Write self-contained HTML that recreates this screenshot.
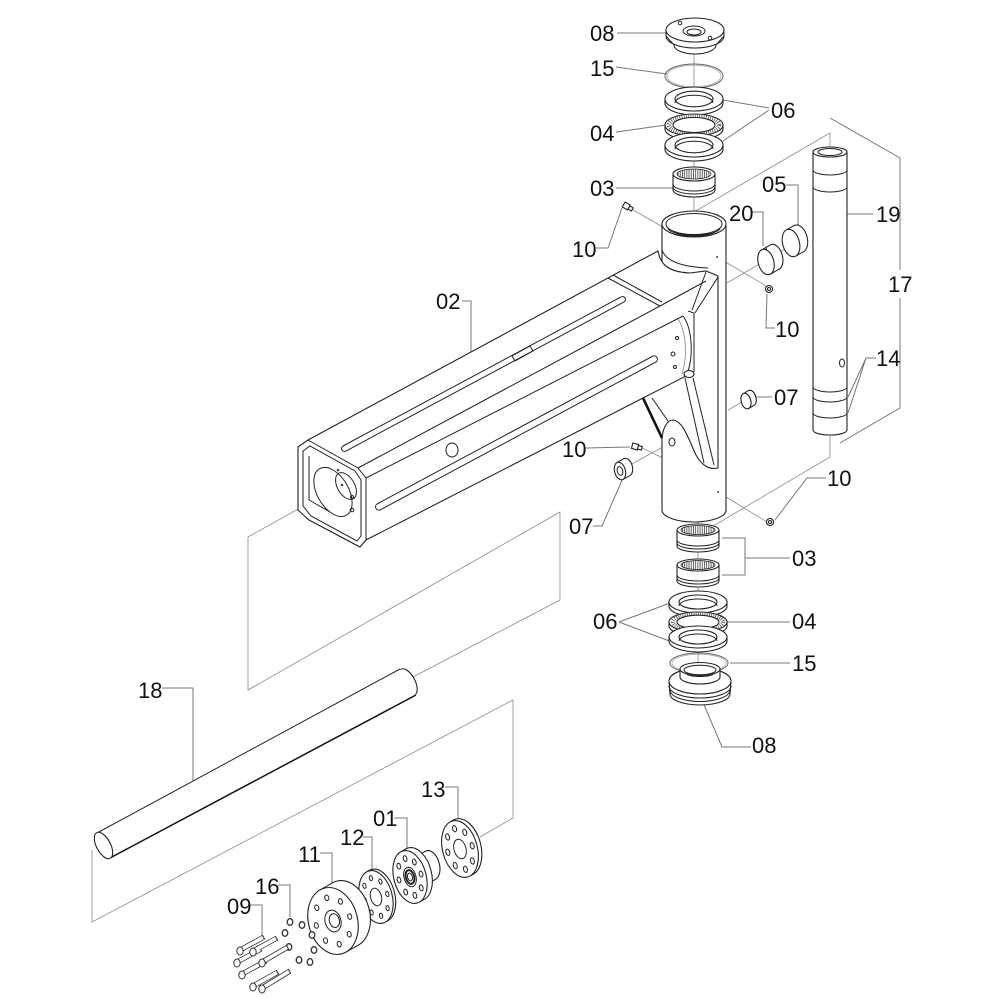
<!DOCTYPE html>
<html><head><meta charset="utf-8"><style>
html,body{margin:0;padding:0;background:#fff;}
svg{display:block}
.p{fill:#fff;stroke:#222;stroke-width:1.1}
.n{fill:none;stroke:#222;stroke-width:1}
.l{fill:none;stroke:#777;stroke-width:1}
.a{fill:none;stroke:#8c8c8c;stroke-width:0.8}
.s{vector-effect:non-scaling-stroke}
.w{fill:#fff;stroke:none}
text{font-family:"Liberation Sans",Arial,sans-serif;font-size:22px;fill:#111}
</style></head><body>
<svg width="1000" height="1000" viewBox="0 0 1000 1000" xmlns="http://www.w3.org/2000/svg">
<defs>
<pattern id="nd" width="2.2" height="10" patternUnits="userSpaceOnUse"><rect width="2.2" height="10" fill="#fff"/><rect x="0" width="0.9" height="10" fill="#555"/></pattern>
</defs>
<rect width="1000" height="1000" fill="#fff"/>

<!-- axis / assembly lines -->
<g class="a">
<path d="M694,45 L694,215"/>
<path d="M830,133 L830,147 M830,133 L694,212"/>
<path d="M830,432 L830,457 L698,535"/>
<path d="M698,518 L698,702"/>
<path d="M633,210 L663,227"/>
<path d="M717,257 L768,287"/>
<path d="M727,283 L800,240"/>
<path d="M728,410 L742,402"/>
<path d="M642,448 L663,458"/>
<path d="M630,465 L672,442"/>
<path d="M718,492 L767,522"/>
<path d="M248,537 L300,508 M248,537 L248,690 L560,512 L560,600 L413,677"/>
<path d="M92,850 L92,922 L513,700 L513,818 L480,837"/>
</g>

<!-- leaders -->
<g class="l">
<path d="M617,33 L666,33"/>
<path d="M616,67 L667,74"/>
<path d="M769,108 L723,100 M769,110 L723,141"/>
<path d="M616,132 L666,125"/>
<path d="M616,188 L673,188"/>
<path d="M596,248 L608,248 L622,208"/>
<path d="M752,212 L763,212 L763,246"/>
<path d="M786,185 L798,185 L798,228"/>
<path d="M842,214 L873,214"/>
<path d="M830,118 L900,158 L900,270 M900,298 L900,408 L840,443"/>
<path d="M767,294 L766,328 L775,328"/>
<path d="M876,358 L866,358 L848,397 M866,358 L848,413"/>
<path d="M757,397 L772,397"/>
<path d="M462,301 L471,301 L471,362"/>
<path d="M586,448 L630,447"/>
<path d="M593,526 L602,526 L623,478"/>
<path d="M775,520 L807,478 L826,478"/>
<path d="M722,538 L745,538 L745,575 L722,575 M745,558 L790,558"/>
<path d="M619,622 L670,603 M619,622 L672,642"/>
<path d="M727,622 L790,622"/>
<path d="M730,663 L790,663"/>
<path d="M702,700 L722,747 L751,747"/>
<path d="M162,688 L193,688 L193,795"/>
<path d="M445,787 L458,787 L458,820"/>
<path d="M394,818 L407,818 L407,850"/>
<path d="M363,837 L372,837 L372,872"/>
<path d="M320,853 L332,853 L332,885"/>
<path d="M278,885 L290,885 L290,917"/>
<path d="M250,905 L262,905 L262,940"/>
</g>

<!-- TOP STACK -->
<!-- 08 top cap -->
<path class="w" d="M666,30 L666,36 L674,45 A21,9 0 0 0 716,45 L724,36 L724,30 Z"/>
<path class="n" d="M666,30 L666,36 L674,45 M724,30 L724,36 L716,45 M674,45 A21,9 0 0 0 716,45 M666,36 A29,12 0 0 0 724,36"/>
<ellipse class="p" cx="695" cy="30" rx="29" ry="12"/>
<ellipse class="n" cx="694" cy="31" rx="11" ry="5"/>
<ellipse class="n" cx="694" cy="32" rx="7" ry="3"/>
<circle class="n" cx="680" cy="23" r="1.8"/><circle class="n" cx="710" cy="38" r="1.8"/>
<!-- 15 oring -->
<ellipse cx="694" cy="76" rx="29" ry="12" fill="none" stroke="#666" stroke-width="1"/>
<ellipse cx="694" cy="76" rx="27" ry="10.8" fill="none" stroke="#aaa" stroke-width="0.8"/>
<!-- 06 washer -->
<path class="p" d="M665,99 L665,103 A29,12 0 0 0 723,103 L723,99 Z"/>
<ellipse class="p" cx="694" cy="99" rx="29" ry="12"/>
<ellipse class="p" cx="694" cy="99" rx="19" ry="7.8"/>
<path class="n" d="M675,103 A19,7.8 0 0 1 713,103"/>
<!-- 04 bearing -->
<path class="p" d="M665,125 L665,129 A29,11 0 0 0 723,129 L723,125 Z"/>
<ellipse class="p" cx="694" cy="125" rx="29" ry="11"/>
<ellipse cx="694" cy="125" rx="25" ry="9.3" fill="none" stroke="#555" stroke-width="4.5" stroke-dasharray="0.8 1.4"/>
<ellipse class="p" cx="694" cy="125" rx="21" ry="7.5"/>
<!-- 06 washer -->
<path class="p" d="M665,145 L665,149 A29,12 0 0 0 723,149 L723,145 Z"/>
<ellipse class="p" cx="694" cy="145" rx="29" ry="12"/>
<ellipse class="p" cx="694" cy="145" rx="19" ry="7.8"/>
<path class="n" d="M675,149 A19,7.8 0 0 1 713,149"/>
<!-- 03 bearing -->
<path class="p" d="M673,174 L673,190 A21,7 0 0 0 715,190 L715,174 Z"/>
<path class="n" d="M673,184 A21,7 0 0 0 715,184 M673,187 A21,7 0 0 0 715,187"/>
<ellipse class="p" cx="694" cy="174" rx="21" ry="7"/>
<ellipse cx="694" cy="174" rx="17" ry="5" fill="url(#nd)" stroke="#222" stroke-width="0.8"/>

<!-- TUBE -->
<path class="p" d="M662,224 L662,510 A32,12 0 0 0 726,510 L726,224 Z"/>
<ellipse class="p" cx="694" cy="224" rx="32" ry="13"/>
<ellipse class="n" cx="694" cy="224" rx="28" ry="10.5"/>
<path class="n" d="M668,228 A26,7 0 0 0 720,228 M673,231 A21,5 0 0 0 715,231"/>
<circle cx="717" cy="257" r="1" fill="#444"/>
<circle cx="718" cy="492" r="1" fill="#444"/>

<!-- BEAM 02 -->
<path class="p" d="M298,447 L308,440 L658,251 C660,264 668,272 690,273 L706,271 L718,276 L718,468 C710,470 702,466 696,455 C688,438 683,421 673,420 C667,420 663,428 662,438 L643,398 L366,540 L360,547 L309,520 L298,510 Z"/>
<path class="n" d="M308,440 L358,468 L366,478 L366,540"/>
<path class="n" d="M303,451 L310,446 L355,471 L361,480 L361,536 L357,541 L311,516 L303,506 Z"/>
<path class="n" d="M358,468 L660,306 M366,478 L683,316 M608,278 L660,306 M613,275 L662,302 M660,306 L706,281"/>
<path class="n" d="M706,272 L692,310 M718,277 L695,313 M694,313 L694,372 M688,311 L694,313"/>
<path class="n" d="M683,316 C692,328 694,356 687,374"/>
<path d="M678,319 C686,331 688,356 682,374" fill="none" stroke="#888" stroke-width="0.8"/>
<path class="n" d="M643,398 L686,376"/>
<ellipse class="p" cx="689" cy="374" rx="5" ry="3.5"/>
<path class="n" d="M685,378 L704,463 M693,378 L714,465 M652,398 L668,421"/>
<path d="M643,398 L662,438" stroke="#111" stroke-width="2.6" fill="none"/>
<path class="n" d="M662,250 C666,262 684,267 708,268"/>
<!-- top slot -->
<path class="n" d="M343,446 L621,297 A2.8,2.8 0 0 1 624,302 L346,451 A2.8,2.8 0 0 1 343,446 Z"/>
<path class="n" d="M512,356 L530,346 L533,351 L515,361 Z"/>
<!-- side slot -->
<path class="n" d="M377,504 L653,356 A3.4,3.4 0 0 1 656,362 L380,510 A3.4,3.4 0 0 1 377,504 Z"/>
<ellipse class="n" cx="452" cy="450" rx="6" ry="7"/>
<circle class="n" cx="677" cy="338" r="1.5"/><circle class="n" cx="673" cy="354" r="2"/><circle class="n" cx="675" cy="367" r="1.5"/>
<ellipse class="n" cx="672" cy="442" rx="3" ry="4"/>
<!-- front face interior -->
<circle class="n s" r="22" transform="matrix(0.87,0.49,0,1,333,492)"/>
<circle class="n s" r="12" transform="matrix(0.87,0.49,0,1,346,486)"/>
<circle cx="338" cy="470" r="1.3" fill="#444"/><circle cx="342" cy="485" r="1.3" fill="#444"/>
<circle class="n" cx="352" cy="497" r="1.5"/><circle class="n" cx="352" cy="510" r="1.8"/>
<path class="n" d="M309,456 L309,500 M309,500 L330,512"/>

<!-- small parts on tube -->
<g transform="translate(628,207) rotate(30)"><rect class="p" x="-5" y="-2.8" width="6" height="5.6"/><rect class="p" x="1" y="-1.8" width="4" height="3.6"/></g>
<circle class="p" cx="769" cy="289" r="3.5"/><circle class="n" cx="769" cy="289" r="1.5"/>
<g transform="translate(637,447) rotate(15)"><rect class="p" x="-5" y="-2.8" width="6" height="5.6"/><rect class="p" x="1" y="-1.8" width="4" height="3.6"/></g>
<circle class="p" cx="770" cy="522" r="3.5"/><circle class="n" cx="770" cy="522" r="1.5"/>

<!-- 20 -->
<g transform="translate(766,262) rotate(-15) scale(0.6,1)">
<circle class="p s" cx="16.1" cy="-2.5" r="13"/>
<polygon class="w" points="2,12.8 -2,-12.8 14.1,-15.3 18.1,10.3"/>
<path class="n s" d="M-2,-12.8 L14.1,-15.3 M2,12.8 L18.1,10.3 M6.4,-14.8 L6.4,11.8"/>
<circle class="p s" r="13"/>
</g>
<!-- 05 -->
<g transform="translate(791,243) rotate(-15) scale(0.6,1)">
<circle class="p s" cx="14.5" cy="-2.2" r="14"/>
<polygon class="w" points="2.1,13.8 -2.1,-13.8 12.4,-16 16.6,11.6"/>
<path class="n s" d="M-2.1,-13.8 L12.4,-16 M2.1,13.8 L16.6,11.6"/>
<circle class="p s" r="14"/>
</g>
<!-- 07 right -->
<g transform="translate(746,401) rotate(-15) scale(0.6,1)">
<circle class="p s" cx="9.7" cy="-1.5" r="8"/>
<polygon class="w" points="1.2,7.9 -1.2,-7.9 8.5,-9.4 10.9,6.4"/>
<path class="n s" d="M-1.2,-7.9 L8.5,-9.4 M1.2,7.9 L10.9,6.4"/>
<circle class="p s" r="8"/>
</g>
<!-- 07 left -->
<g transform="translate(620,471) rotate(-15) scale(0.6,1)">
<circle class="p s" cx="12.9" cy="-2" r="9"/>
<polygon class="w" points="1.4,8.9 -1.4,-8.9 11.5,-10.9 14.3,6.9"/>
<path class="n s" d="M-1.4,-8.9 L11.5,-10.9 M1.4,8.9 L14.3,6.9"/>
<circle class="p s" r="9"/>
<circle class="n s" r="4.5"/>
</g>

<!-- 19 tube -->
<path class="p" d="M813,152 L813,430 A17,5 0 0 0 847,430 L847,152 Z"/>
<path class="n" d="M813,170 A17,5 0 0 0 847,170 M813,187 A17,5 0 0 0 847,187 M813,387 A17,5 0 0 0 847,387 M813,397 A17,5 0 0 0 847,397 M813,413 A17,5 0 0 0 847,413"/>
<ellipse class="p" cx="830" cy="152" rx="17" ry="5"/>
<ellipse class="n" cx="830" cy="152" rx="12" ry="3.5"/>
<ellipse class="n" cx="842" cy="363" rx="2.5" ry="4"/>

<!-- LOWER STACK -->
<path class="p" d="M677,530 L677,546 A21,6 0 0 0 719,546 L719,530 Z"/>
<path class="n" d="M677,540 A21,6 0 0 0 719,540 M677,543 A21,6 0 0 0 719,543"/>
<ellipse class="p" cx="698" cy="530" rx="21" ry="6"/>
<ellipse cx="698" cy="530" rx="17" ry="4.5" fill="url(#nd)" stroke="#222" stroke-width="0.8"/>
<path class="p" d="M677,565 L677,581 A21,6 0 0 0 719,581 L719,565 Z"/>
<path class="n" d="M677,575 A21,6 0 0 0 719,575 M677,578 A21,6 0 0 0 719,578"/>
<ellipse class="p" cx="698" cy="565" rx="21" ry="6"/>
<ellipse cx="698" cy="565" rx="17" ry="4.5" fill="url(#nd)" stroke="#222" stroke-width="0.8"/>
<!-- 06 -->
<path class="p" d="M669,602 L669,606 A29,11 0 0 0 727,606 L727,602 Z"/>
<ellipse class="p" cx="698" cy="602" rx="29" ry="11"/>
<ellipse class="p" cx="698" cy="602" rx="19" ry="7"/>
<path class="n" d="M679,606 A19,7 0 0 1 717,606"/>
<!-- 04 -->
<path class="p" d="M669,622 L669,626 A29,10 0 0 0 727,626 L727,622 Z"/>
<ellipse class="p" cx="698" cy="622" rx="29" ry="10"/>
<ellipse cx="698" cy="622" rx="25" ry="8.5" fill="none" stroke="#555" stroke-width="4.2" stroke-dasharray="0.8 1.4"/>
<ellipse class="p" cx="698" cy="622" rx="21" ry="6.8"/>
<!-- 06 -->
<path class="p" d="M669,637 L669,641 A29,11 0 0 0 727,641 L727,637 Z"/>
<ellipse class="p" cx="698" cy="637" rx="29" ry="11"/>
<ellipse class="p" cx="698" cy="637" rx="19" ry="7"/>
<path class="n" d="M679,641 A19,7 0 0 1 717,641"/>
<!-- 15 -->
<ellipse cx="699" cy="663" rx="29" ry="10" fill="none" stroke="#666" stroke-width="1"/>
<ellipse cx="699" cy="663" rx="27" ry="8.8" fill="none" stroke="#aaa" stroke-width="0.8"/>
<!-- 08 bottom -->
<path class="p" d="M669,681 L670,694 A30,11 0 0 0 730,694 L731,681 Z"/>
<path class="n" d="M669,686 A31,12 0 0 0 731,686 M670,690 A30,11.5 0 0 0 730,690"/>
<ellipse class="p" cx="700" cy="681" rx="31" ry="13"/>
<path class="p" d="M680,669 L680,677 A20,7 0 0 0 720,677 L720,669 Z"/>
<ellipse class="p" cx="700" cy="669" rx="20" ry="6.5"/>
<ellipse class="n" cx="700" cy="670" rx="16" ry="4.8"/>
<path class="n" d="M686,673 A14,3.5 0 0 0 714,673"/>

<!-- ROD 18 -->
<ellipse class="p" cx="408" cy="682" rx="7" ry="14.5" transform="rotate(-28 408 682)"/>
<path class="w" d="M400,669 L416,695 L110,858 L97,833 Z"/>
<path class="n" d="M400,669 L97,833"/>
<path d="M416,695 L110,858" fill="none" stroke="#111" stroke-width="1.5"/>
<ellipse class="p" cx="103.5" cy="845.5" rx="7" ry="14.5" transform="rotate(-28 103.5 845.5)"/>

<!-- 13 -->
<g transform="translate(460,849) rotate(-15) scale(0.6,1)">
<circle class="p s" cx="6.4" cy="-1" r="29"/>
<polygon class="w" points="4.4,28.7 -4.4,-28.7 2,-29.7 10.8,27.7"/>
<path class="n s" d="M-4.4,-28.7 L2,-29.7 M4.4,28.7 L10.8,27.7"/>
<circle class="p s" r="29"/>
<circle class="n s" r="10"/>
<g class="n s"><circle class="s" cx="21" cy="0" r="3.2"/><circle class="s" cx="14.8" cy="14.8" r="3.2"/><circle class="s" cx="0" cy="21" r="3.2"/><circle class="s" cx="-14.8" cy="14.8" r="3.2"/><circle class="s" cx="-21" cy="0" r="3.2"/><circle class="s" cx="-14.8" cy="-14.8" r="3.2"/><circle class="s" cx="0" cy="-21" r="3.2"/><circle class="s" cx="14.8" cy="-14.8" r="3.2"/></g>
</g>
<!-- 01 -->
<g transform="translate(410,877) rotate(-15) scale(0.6,1)">
<circle class="p s" cx="38" cy="-6" r="15"/>
<polygon class="w" points="2.3,14.8 -2.3,-14.8 35.7,-20.8 40.3,8.8"/>
<path class="n s" d="M-2.3,-14.8 L35.7,-20.8 M2.3,14.8 L40.3,8.8"/>
<circle class="p s" cx="9.7" cy="-1.5" r="27"/>
<polygon class="w" points="4.1,26.7 -4.1,-26.7 5.6,-28.2 13.8,25.2"/>
<path class="n s" d="M-4.1,-26.7 L5.6,-28.2 M4.1,26.7 L13.8,25.2"/>
<circle class="p s" r="27"/>
<circle class="n s" r="10"/>
<circle class="s" r="7" fill="#fff" stroke="#222" stroke-width="2"/>
<circle class="n s" r="4"/>
<g class="n s"><circle class="s" cx="19" cy="0" r="3"/><circle class="s" cx="13.4" cy="13.4" r="3"/><circle class="s" cx="0" cy="19" r="3"/><circle class="s" cx="-13.4" cy="13.4" r="3"/><circle class="s" cx="-19" cy="0" r="3"/><circle class="s" cx="-13.4" cy="-13.4" r="3"/><circle class="s" cx="0" cy="-19" r="3"/><circle class="s" cx="13.4" cy="-13.4" r="3"/></g>
</g>
<!-- 12 -->
<g transform="translate(376,897) rotate(-15) scale(0.6,1)">
<circle class="p s" cx="4.8" cy="-0.75" r="27"/>
<polygon class="w" points="4.1,26.7 -4.1,-26.7 0.7,-27.5 8.9,26"/>
<path class="n s" d="M-4.1,-26.7 L0.7,-27.5 M4.1,26.7 L8.9,26"/>
<circle class="p s" r="27"/>
<circle class="n s" r="9"/>
<g class="n s"><circle class="s" cx="19.5" cy="0" r="2.6"/><circle class="s" cx="13.8" cy="13.8" r="2.6"/><circle class="s" cx="0" cy="19.5" r="2.6"/><circle class="s" cx="-13.8" cy="13.8" r="2.6"/><circle class="s" cx="-19.5" cy="0" r="2.6"/><circle class="s" cx="-13.8" cy="-13.8" r="2.6"/><circle class="s" cx="0" cy="-19.5" r="2.6"/><circle class="s" cx="13.8" cy="-13.8" r="2.6"/></g>
</g>
<!-- 11 -->
<g transform="translate(333,921) rotate(-15) scale(0.72,1)">
<circle class="p s" cx="18.8" cy="-3.5" r="34"/>
<polygon class="w" points="6.2,33.4 -6.2,-33.4 12.6,-36.9 25,29.9"/>
<path class="n s" d="M-6.2,-33.4 L12.6,-36.9 M6.2,33.4 L25,29.9"/>
<circle class="p s" r="34"/>
<circle class="n s" r="11"/>
<circle class="n s" cx="2" cy="0" r="7"/>
<g class="n s"><circle class="s" cx="24" cy="0" r="2.8"/><circle class="s" cx="17" cy="17" r="2.8"/><circle class="s" cx="0" cy="24" r="2.8"/><circle class="s" cx="-17" cy="17" r="2.8"/><circle class="s" cx="-24" cy="0" r="2.8"/><circle class="s" cx="-17" cy="-17" r="2.8"/><circle class="s" cx="0" cy="-24" r="2.8"/><circle class="s" cx="17" cy="-17" r="2.8"/></g>
</g>

<!-- 16 washers -->
<g fill="#fff" stroke="#333" stroke-width="1.3">
<ellipse cx="290" cy="922" rx="2.8" ry="3.3"/><ellipse cx="302" cy="925" rx="2.8" ry="3.3"/>
<ellipse cx="285" cy="933" rx="2.8" ry="3.3"/><ellipse cx="312" cy="935" rx="2.8" ry="3.3"/>
<ellipse cx="289" cy="947" rx="2.8" ry="3.3"/><ellipse cx="314" cy="950" rx="2.8" ry="3.3"/>
<ellipse cx="299" cy="960" rx="2.8" ry="3.3"/><ellipse cx="310" cy="962" rx="2.8" ry="3.3"/>
</g>

<!-- 09 bolts -->
<g stroke-linecap="butt">
<g stroke="#333" stroke-width="5.2">
<path d="M240,950 L264,937 M253,951 L277,938 M237,962 L261,949 M262,962 L288,947 M242,974 L266,961 M253,986 L278,972 M262,988 L290,971"/>
</g>
<g stroke="#fff" stroke-width="3.6">
<path d="M241,949.5 L263,937.5 M254,950.5 L276,938.5 M238,961.5 L260,949.5 M263,961.5 L287,947.5 M243,973.5 L265,961.5 M254,985.5 L277,972.5 M263,987.5 L289,971.5"/>
</g>
</g>
<g fill="#fff" stroke="#333" stroke-width="1">
<ellipse cx="240" cy="951" rx="3.2" ry="4"/><ellipse cx="253" cy="952" rx="3.2" ry="4"/>
<ellipse cx="237" cy="963" rx="3.2" ry="4"/><ellipse cx="262" cy="963" rx="3.2" ry="4"/>
<ellipse cx="242" cy="975" rx="3.2" ry="4"/><ellipse cx="253" cy="987" rx="3.2" ry="4"/>
<ellipse cx="262" cy="989" rx="3.2" ry="4"/>
</g>

<!-- LABELS -->
<text x="590" y="41">08</text>
<text x="590" y="76">15</text>
<text x="771" y="118">06</text>
<text x="590" y="141">04</text>
<text x="590" y="196">03</text>
<text x="572" y="257">10</text>
<text x="729" y="221">20</text>
<text x="762" y="192">05</text>
<text x="876" y="222">19</text>
<text x="888" y="292">17</text>
<text x="436" y="309">02</text>
<text x="775" y="337">10</text>
<text x="876" y="366">14</text>
<text x="774" y="405">07</text>
<text x="562" y="457">10</text>
<text x="827" y="486">10</text>
<text x="569" y="534">07</text>
<text x="792" y="566">03</text>
<text x="593" y="629">06</text>
<text x="792" y="629">04</text>
<text x="792" y="671">15</text>
<text x="752" y="753">08</text>
<text x="138" y="698">18</text>
<text x="421" y="797">13</text>
<text x="373" y="826">01</text>
<text x="340" y="845">12</text>
<text x="298" y="862">11</text>
<text x="255" y="894">16</text>
<text x="227" y="914">09</text>
</svg>
</body></html>
